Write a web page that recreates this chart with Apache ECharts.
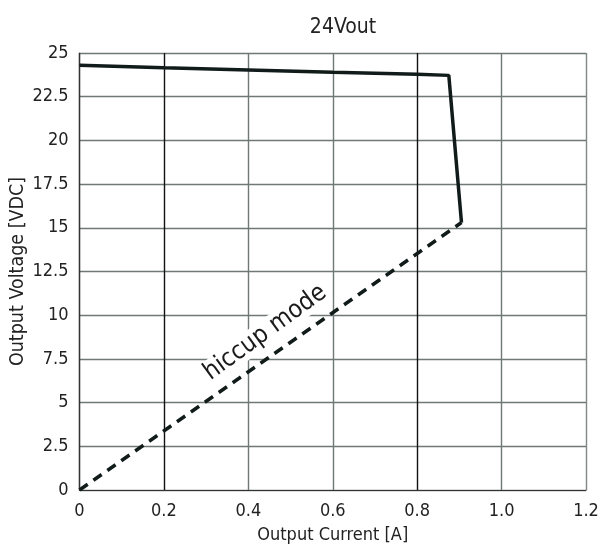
<!DOCTYPE html>
<html><head><meta charset="utf-8">
<script src="https://cdn.jsdelivr.net/npm/echarts@6/dist/echarts.min.js"></script>
<style>html,body{margin:0;padding:0;background:#fff}#c{width:600px;height:556px}</style>
</head><body><div id="c"></div>
<script>
var titleText = '24Vout';
var xName = 'Output Current [A]';
var yName = 'Output Voltage [VDC]';
var curveX = [0, 0.2, 0.4, 0.6, 0.8, 0.875, 0.905];
var curveY = [24.3, 24.15, 24.03, 23.9, 23.78, 23.72, 15.3];
var hiccupX = [0, 0.905];
var hiccupY = [0, 15.3];
var hiccupLabel = 'hiccup mode';
var hiccupLabelAt = [0.44, 9.0];

var FONT = '"Liberation Sans Narrow","DejaVu Sans Condensed",sans-serif';
function pairs(xs, ys){ return xs.map(function(x,i){ return [x, ys[i]]; }); }

var chart = echarts.init(document.getElementById('c'), null, {renderer:'canvas'});
chart.setOption({
  animation:false,
  backgroundColor:'#fff',
  title:{text:titleText, left:338, top:12, textAlign:'center',
    textStyle:{fontFamily:FONT, fontSize:21, fontWeight:'normal', color:'#222'}},
  grid:{left:79.5, right:14, top:53, bottom:66, containLabel:false, outerBoundsMode:'none'},
  xAxis:{type:'value', min:0, max:1.2, interval:0.2,
    name:xName, nameLocation:'middle', nameGap:36, nameMoveOverlap:false,
    nameTextStyle:{fontFamily:FONT, fontSize:18, color:'#222'},
    axisLine:{show:true, onZero:false, lineStyle:{color:'#333', width:1.2}},
    axisTick:{show:false},
    axisLabel:{fontFamily:FONT, fontSize:18, color:'#222', margin:12,
      formatter:function(v){ return v===0?'0':v.toFixed(1); }},
    splitLine:{show:true, lineStyle:{width:1.4,
      color:['#333','#111','#6e7876','#6e7876','#111','#6e7876','#7f8886']}}},
  yAxis:{type:'value', min:0, max:25, interval:2.5,
    name:yName, nameLocation:'middle', nameGap:52, nameMoveOverlap:false,
    nameTextStyle:{fontFamily:FONT, fontSize:19.5, color:'#222'},
    axisLine:{show:true, onZero:false, lineStyle:{color:'#333', width:1.2}},
    axisTick:{show:false},
    axisLabel:{fontFamily:FONT, fontSize:18, color:'#222', margin:11},
    splitLine:{show:true, lineStyle:{width:1.4, color:'#6e7876'}}},
  series:[
    {type:'line', data:pairs(curveX, curveY), symbol:'none',
      lineStyle:{color:'#111c1a', width:3.5}, z:3},
    {type:'line', data:pairs(hiccupX, hiccupY), symbol:'none',
      lineStyle:{color:'#111c1a', width:3.5, type:[10,7]}, z:3,
      markPoint:{symbol:'circle', symbolSize:0, silent:true,
        data:[{coord:hiccupLabelAt, value:hiccupLabel}],
        label:{show:true, position:'inside', rotate:36, formatter:hiccupLabel,
          fontFamily:FONT, fontSize:25, color:'#1a1a1a',
          backgroundColor:'#fff', padding:[0,2]}}}
  ]
});
</script></body></html>
